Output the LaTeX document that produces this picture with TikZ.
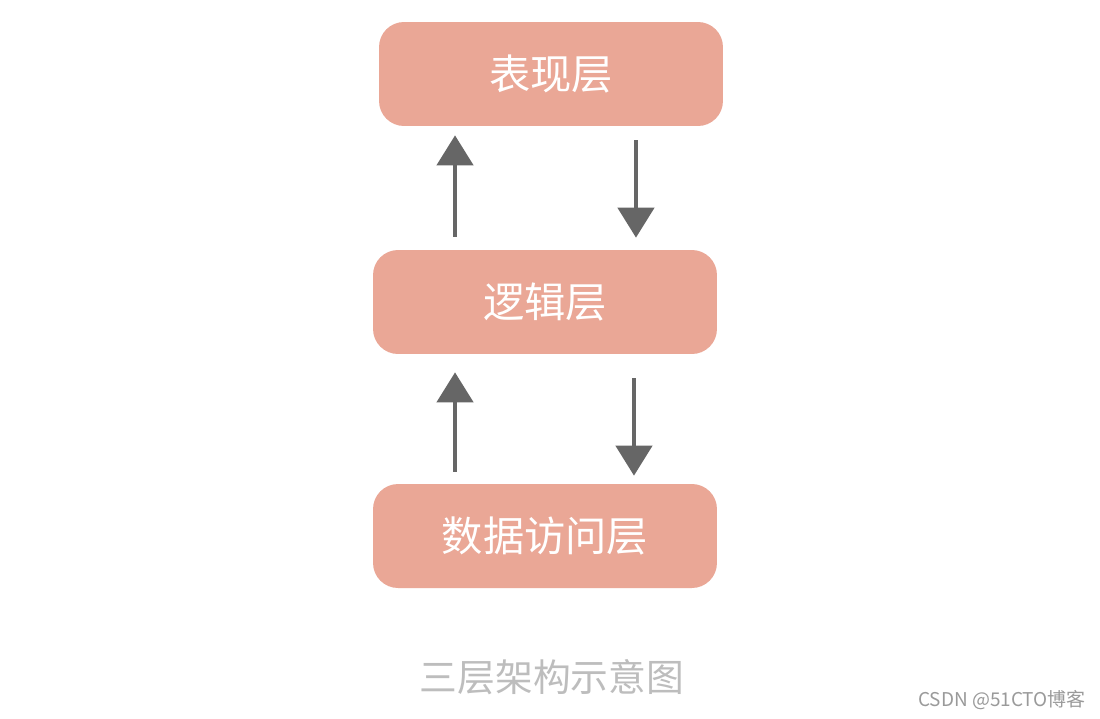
\documentclass[tikz,border=0pt]{standalone}
\usepackage{fontspec}
\newfontfamily\cjk{Noto Sans CJK SC}
\usetikzlibrary{arrows.meta}
\definecolor{layerfill}{HTML}{EAA796}
\definecolor{arrowgray}{HTML}{666666}
\definecolor{captiongray}{HTML}{BDBDBD}
\definecolor{markgray}{HTML}{9A9A9A}
\tikzset{
  layer/.style={fill=layerfill, rounded corners=0.5cm, minimum width=6.88cm,
    minimum height=2.08cm, text=white, font=\cjk\fontsize{23.5pt}{23.5pt}\selectfont},
  flow/.style={-{Triangle[width=0.72cm, length=0.6cm]}, line width=2.6pt, arrowgray}
}
\begin{document}
\begin{tikzpicture}[x=0.02cm, y=-0.02cm]
            % Page background
            \fill [white] (0,0) rectangle (1100,718);

            % Layers
            \node [layer] (present) at (551,74) {表现层};
            \node [layer] (logic) at (545,302) {逻辑层};
            \node [layer] (data) at (545,536) {数据访问层};

            % Arrows between present and logic
            \draw [flow, shorten <=0.26cm, shorten >=0.18cm] ([xshift=-1.8cm]logic.north) -- ([xshift=-1.8cm]logic.north |- present.south);
            \draw [flow, shorten <=0.28cm, shorten >=0.24cm] ([xshift=1.7cm]present.south) -- ([xshift=1.7cm]present.south |- logic.north);

            % Arrows between logic and data
            \draw [flow, shorten <=0.24cm, shorten >=0.36cm] ([xshift=-1.8cm]data.north) -- ([xshift=-1.8cm]data.north |- logic.south);
            \draw [flow, shorten <=0.48cm, shorten >=0.16cm] ([xshift=1.78cm]logic.south) -- ([xshift=1.78cm]logic.south |- data.north);

            % Caption
            \node [text=captiongray, font=\cjk\fontsize{21.5pt}{21.5pt}\selectfont] (caption) at (552,677) {三层架构示意图};

            % Watermark
            \node [text=markgray, font=\cjk\fontsize{10.8pt}{10.8pt}\selectfont, anchor=east] (mark) at (1092,700) {CSDN @51CTO博客};
\end{tikzpicture}
\end{document}
